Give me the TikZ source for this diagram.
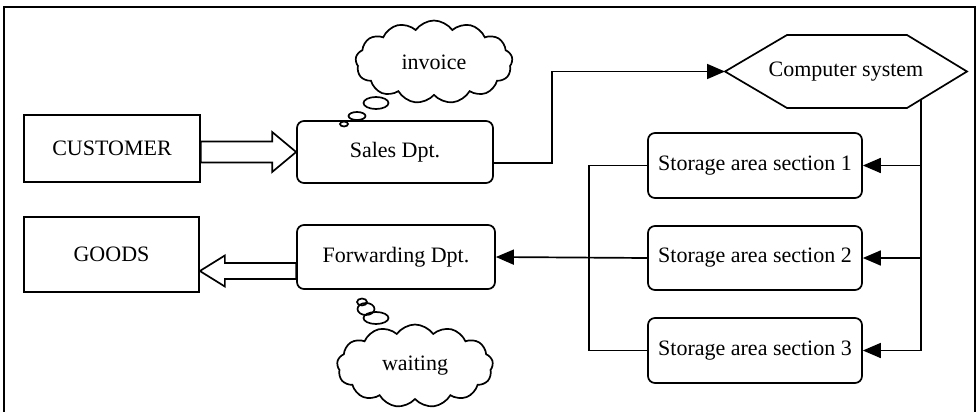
\documentclass[tikz,border=0pt]{standalone}
\usepackage{fontspec}
\setmainfont{Liberation Serif}
\usetikzlibrary{arrows.meta,calc,shapes.symbols,shapes.geometric}
\begin{document}
\begin{tikzpicture}[x=1pt,y=-1pt,
  line width=1.7pt,
  font=\fontsize{22}{26}\selectfont,
  plainbox/.style={draw,rectangle,inner sep=0pt},
  roundbox/.style={draw,rectangle,rounded corners=7pt,inner sep=0pt},
  thought/.style={draw,cloud,cloud puffs=13,cloud puff arc=110,aspect=1.9,inner sep=0pt},
  arr/.style={-{Triangle[length=18pt,width=15pt]}},
  hollow/.style={line width=1.7pt,line join=miter}]
\useasboundingbox (0,0) rectangle (980,412);

% frame
\draw (4,412) -- (4,7) -- (975,7) -- (975,412);

% nodes
\node[plainbox,minimum width=176pt,minimum height=67pt] (cust) at (112,148.5) {CUSTOMER};
\node[roundbox,minimum width=196pt,minimum height=62pt] (sales) at (395,152) {Sales Dpt.};
\node[inner sep=0pt] (comp) at (846,71.5) {Computer system};
\node[roundbox,minimum width=214pt,minimum height=65pt] (s1) at (755,165.5) {Storage area section 1};
\node[roundbox,minimum width=214pt,minimum height=64pt] (s2) at (755,258) {Storage area section 2};
\node[roundbox,minimum width=214pt,minimum height=65pt] (s3) at (755,350.5) {Storage area section 3};
\node[roundbox,minimum width=198pt,minimum height=64pt] (fwd) at (396,257) {Forwarding Dpt.};
\node[plainbox,minimum width=175pt,minimum height=75pt] (goods) at (111.5,254.5) {GOODS};

% hexagon round the computer system
\draw[line join=miter] ($(comp)+(-121,0)$) coordinate (compW) -- ++(62,-36.5) -- ++(120,0)
  -- ++(60,36.5) -- ++(-60,36.5) -- ++(-120,0) -- cycle;

% thought clouds
\node[thought,minimum width=157pt,minimum height=83pt] (inv) at (434,62) {invoice};
\draw (376,103) ellipse [x radius=12.5pt,y radius=6pt];
\draw (357,116) ellipse [x radius=8.5pt,y radius=4pt];
\draw (344,124) ellipse [x radius=4pt,y radius=2.5pt];

\node[thought,minimum width=156pt,minimum height=83pt] (wait) at (415,366) {waiting};
\draw (376,318) ellipse [x radius=12.5pt,y radius=6pt];
\draw (366,309) ellipse [x radius=8.5pt,y radius=6pt];
\draw (362,302) ellipse [x radius=5pt,y radius=3.5pt];

% hollow arrow customer -> sales
\coordinate (t1) at (sales.west);
\draw[hollow] (t1) -- ++(-24,-20) -- ++(0,9.5) -- ($(cust.east|-t1)+(0,-10.5)$)
  -- ++(0,21) -- ($(t1)+(-24,10.5)$) -- ++(0,9.5) -- cycle;

% hollow arrow forwarding -> goods
\coordinate (t2) at ([yshift=-16.5pt]goods.east);
\draw[hollow] (t2) -- ++(25,-15.5) -- ++(0,7.5) -- ($(fwd.west|-t2)+(0,-8)$)
  -- ++(0,16) -- ($(t2)+(25,8)$) -- ++(0,7.5) -- cycle;

% sales -> computer system
\draw[arr] ([yshift=-11pt]sales.east) -- ++(58,0) |- (compW);

% computer system -> storage sections
\coordinate (tap) at (921,99.5);
\draw[arr] (tap) |- (s3.east);
\draw[arr] (tap|-s1.east) -- (s1.east);
\draw[arr] (tap|-s2.east) -- (s2.east);

% storage sections -> forwarding
\draw (s1.west) -- ++(-58,0) |- (s3.west);
\draw[arr] (s2.west) -- (fwd.east);
\end{tikzpicture}
\end{document}
